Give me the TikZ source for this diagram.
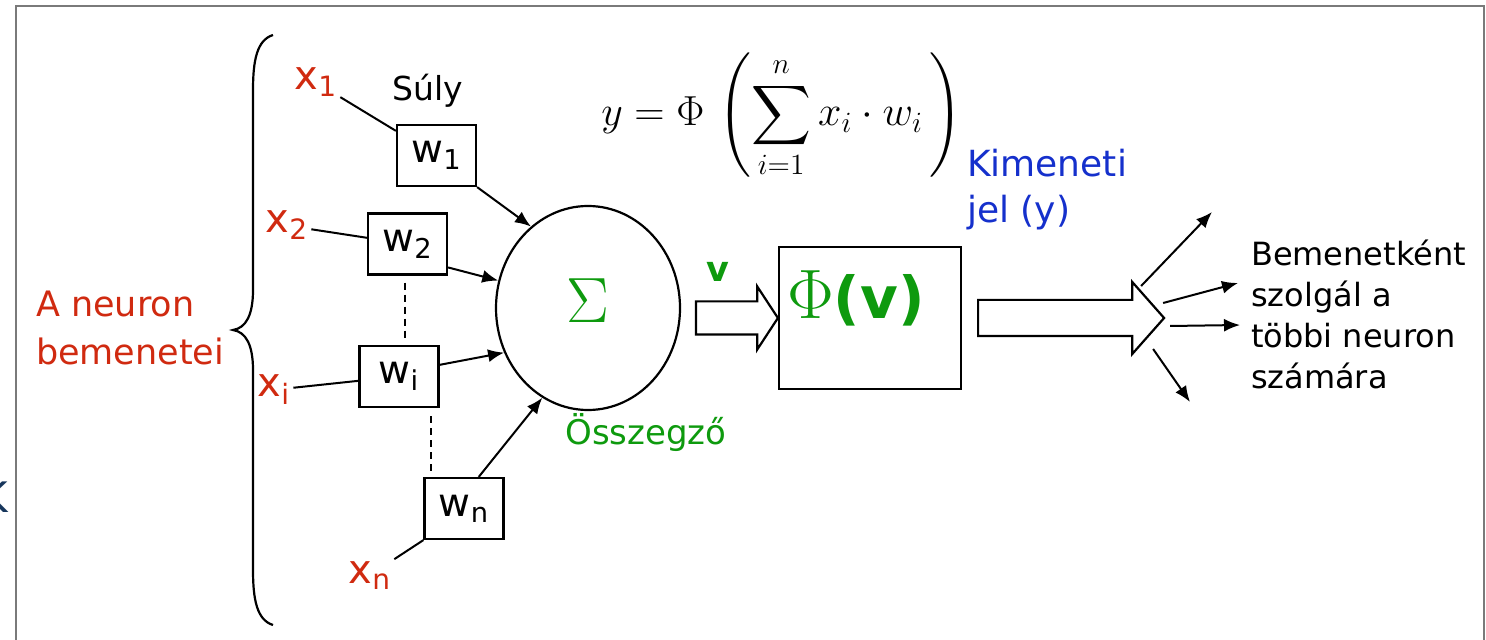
\RequirePackage{fix-cm}
\documentclass[tikz,border=0pt]{standalone}
\usepackage{amsmath}
\usepackage[no-math]{fontspec}
\setmainfont{DejaVu Sans}
\usetikzlibrary{arrows.meta,positioning,calc,shapes.geometric,shapes.arrows}
\definecolor{NeuronRed}{HTML}{D02A10}
\definecolor{NeuronGreen}{HTML}{0E9A0E}
\definecolor{NeuronBlue}{HTML}{1530CC}
\definecolor{NeuronNavy}{HTML}{17365C}
\definecolor{FrameGray}{HTML}{7A7A7A}

\begin{document}
\begin{tikzpicture}[x=0.5pt,y=-0.5pt,line width=1.1pt]
    \tikzset{wbox/.style={draw,minimum width=39.5pt,minimum height=30.5pt,inner sep=0pt,
      font=\fontsize{19.5}{22}\selectfont},
      xlab/.style={text=NeuronRed,inner sep=1pt,anchor=base,font=\fontsize{20}{24}\selectfont},
      wire/.style={line width=1pt},
      feed/.style={line width=1pt,-{Latex[length=8pt,width=6.5pt]}},
      dots/.style={line width=1pt,dash pattern=on 3.5pt off 2.5pt},
      blockarrow/.style={single arrow,draw,fill=white,inner xsep=0pt,outer sep=0pt}}
    \useasboundingbox (0,0) rectangle (1486,640);
    % frame of the slide
    \draw[FrameGray,line width=0.8pt] (16,660) -- (16,6) -- (1484,6) -- (1484,660);
    \node[text=NeuronNavy,anchor=east,inner sep=0pt,font=\fontsize{21}{24}\selectfont] (kcut) at (9,497) {K};
    % inputs
    \node[text=NeuronRed,align=left,anchor=west,inner sep=0pt,font=\fontsize{17.5}{24}\selectfont] (inputs)
      at (35,328) {A neuron\\bemenetei};
    \draw (273,35) .. controls (257,40) and (253,60) .. (253,90) -- (253,290)
      .. controls (253,315) and (246,328) .. (233,330) .. controls (246,332) and (253,345) .. (253,370)
      -- (253,570) .. controls (253,600) and (257,620) .. (273,625);
    \node[font=\fontsize{16.5}{19}\selectfont] (suly) at (428,91) {Súly};
    \node[wbox] (w1) at (436.5,155.5) {w\textsubscript{1}};
    \node[wbox] (w2) at (407.5,244) {w\textsubscript{2}};
    \node[wbox] (wi) at (399,376.5) {w\textsubscript{i}};
    \node[wbox] (wn) at (464,508.5) {w\textsubscript{n}};
    \node[xlab] (x1) at (316,90) {x\textsubscript{1}};
    \node[xlab] (x2) at (287,233) {x\textsubscript{2}};
    \node[xlab] (xi) at (274,397) {x\textsubscript{i}};
    \node[xlab] (xn) at (370,583) {x\textsubscript{n}};
    \draw[wire] (x1) -- (w1);
    \draw[wire] (x2) -- (w2);
    \draw[wire] (xi) -- (wi);
    \draw[wire] (xn) -- (wn.south west);
    \draw[dots] ($(w2.south)+(-2.5,7)$) -- ($(w2.south |- wi.north)+(-2.5,-6)$);
    \draw[dots] ($(wn.north west |- wi.south)+(7.5,8)$) -- ($(wn.north west)+(7.5,-6)$);
    % summing node
    \node[ellipse,draw,minimum width=92pt,minimum height=102pt,inner sep=0pt] (sum) at (588,308) {};
    \node[text=NeuronGreen,inner sep=0pt,font=\fontsize{32}{36}\selectfont] (sigma) at (588,301) {$\Sigma$};
    \node[text=NeuronGreen,font=\fontsize{17}{20}\selectfont] (sumlabel) at (646,433) {Összegző};
    \draw[feed] (w1.south east) -- (sum.125);
    \draw[feed] (w2.-30) -- (sum.163);
    \draw[feed] (wi.16) -- (sum.208);
    \draw[feed] (wn.65) -- (sum.243);
    \node[font=\fontsize{21}{25}\selectfont] (formula) at (782,116)
      {$\displaystyle y=\Phi\,\left(\sum_{i=1}^{n} x_i\cdot w_i\,\right)$};
    % activation
    \node[draw,minimum width=91pt,minimum height=71pt] (phi) at (870,318) {};
    \node[text=NeuronGreen,inner sep=0pt,font=\fontsize{29}{34}\selectfont] (phitext) at (856,298)
      {{\fontsize{35}{40}\selectfont$\Phi$}\textbf{(v)}};
    \node[text=NeuronGreen,font=\bfseries\fontsize{17.5}{20}\selectfont] (vlabel) at (718,272) {v};
    \node[blockarrow,minimum height=41pt,inner ysep=7.75pt,single arrow head extend=7.5pt,
      single arrow tip angle=113.5,anchor=tip] (vArrow) at (phi.west) {};
    \node[blockarrow,minimum height=93pt,inner ysep=8.5pt,single arrow head extend=9pt,
      single arrow tip angle=97,anchor=tail] (yArrow) at ($(phi.east)+(16,0)$) {};
    \node[text=NeuronBlue,align=left,anchor=west,inner sep=0pt,font=\fontsize{18}{23}\selectfont] (output)
      at (966,190) {Kimeneti\\jel (y)};
    % fan out
    \coordinate (fan1) at ($(yArrow.tip)+(-23,-32)$);
    \coordinate (fan2) at ($(yArrow.tip)+(-1,-15)$);
    \coordinate (fan3) at ($(yArrow.tip)+(6,8)$);
    \coordinate (fan4) at ($(yArrow.tip)+(-11,31)$);
    \coordinate (out1) at (1212,212);
    \coordinate (out2) at (1238,283);
    \coordinate (out3) at (1240,325);
    \coordinate (out4) at (1190,402);
    \draw[feed] (fan1) -- (out1);
    \draw[feed] (fan2) -- (out2);
    \draw[feed] (fan3) -- (out3);
    \draw[feed] (fan4) -- (out4);
    \node[align=left,anchor=west,inner sep=0pt,font=\fontsize{16}{20.5}\selectfont] (reuse)
      at (1250,314) {Bemenetként\\szolgál a\\többi neuron\\számára};
  \end{tikzpicture}
\end{document}
